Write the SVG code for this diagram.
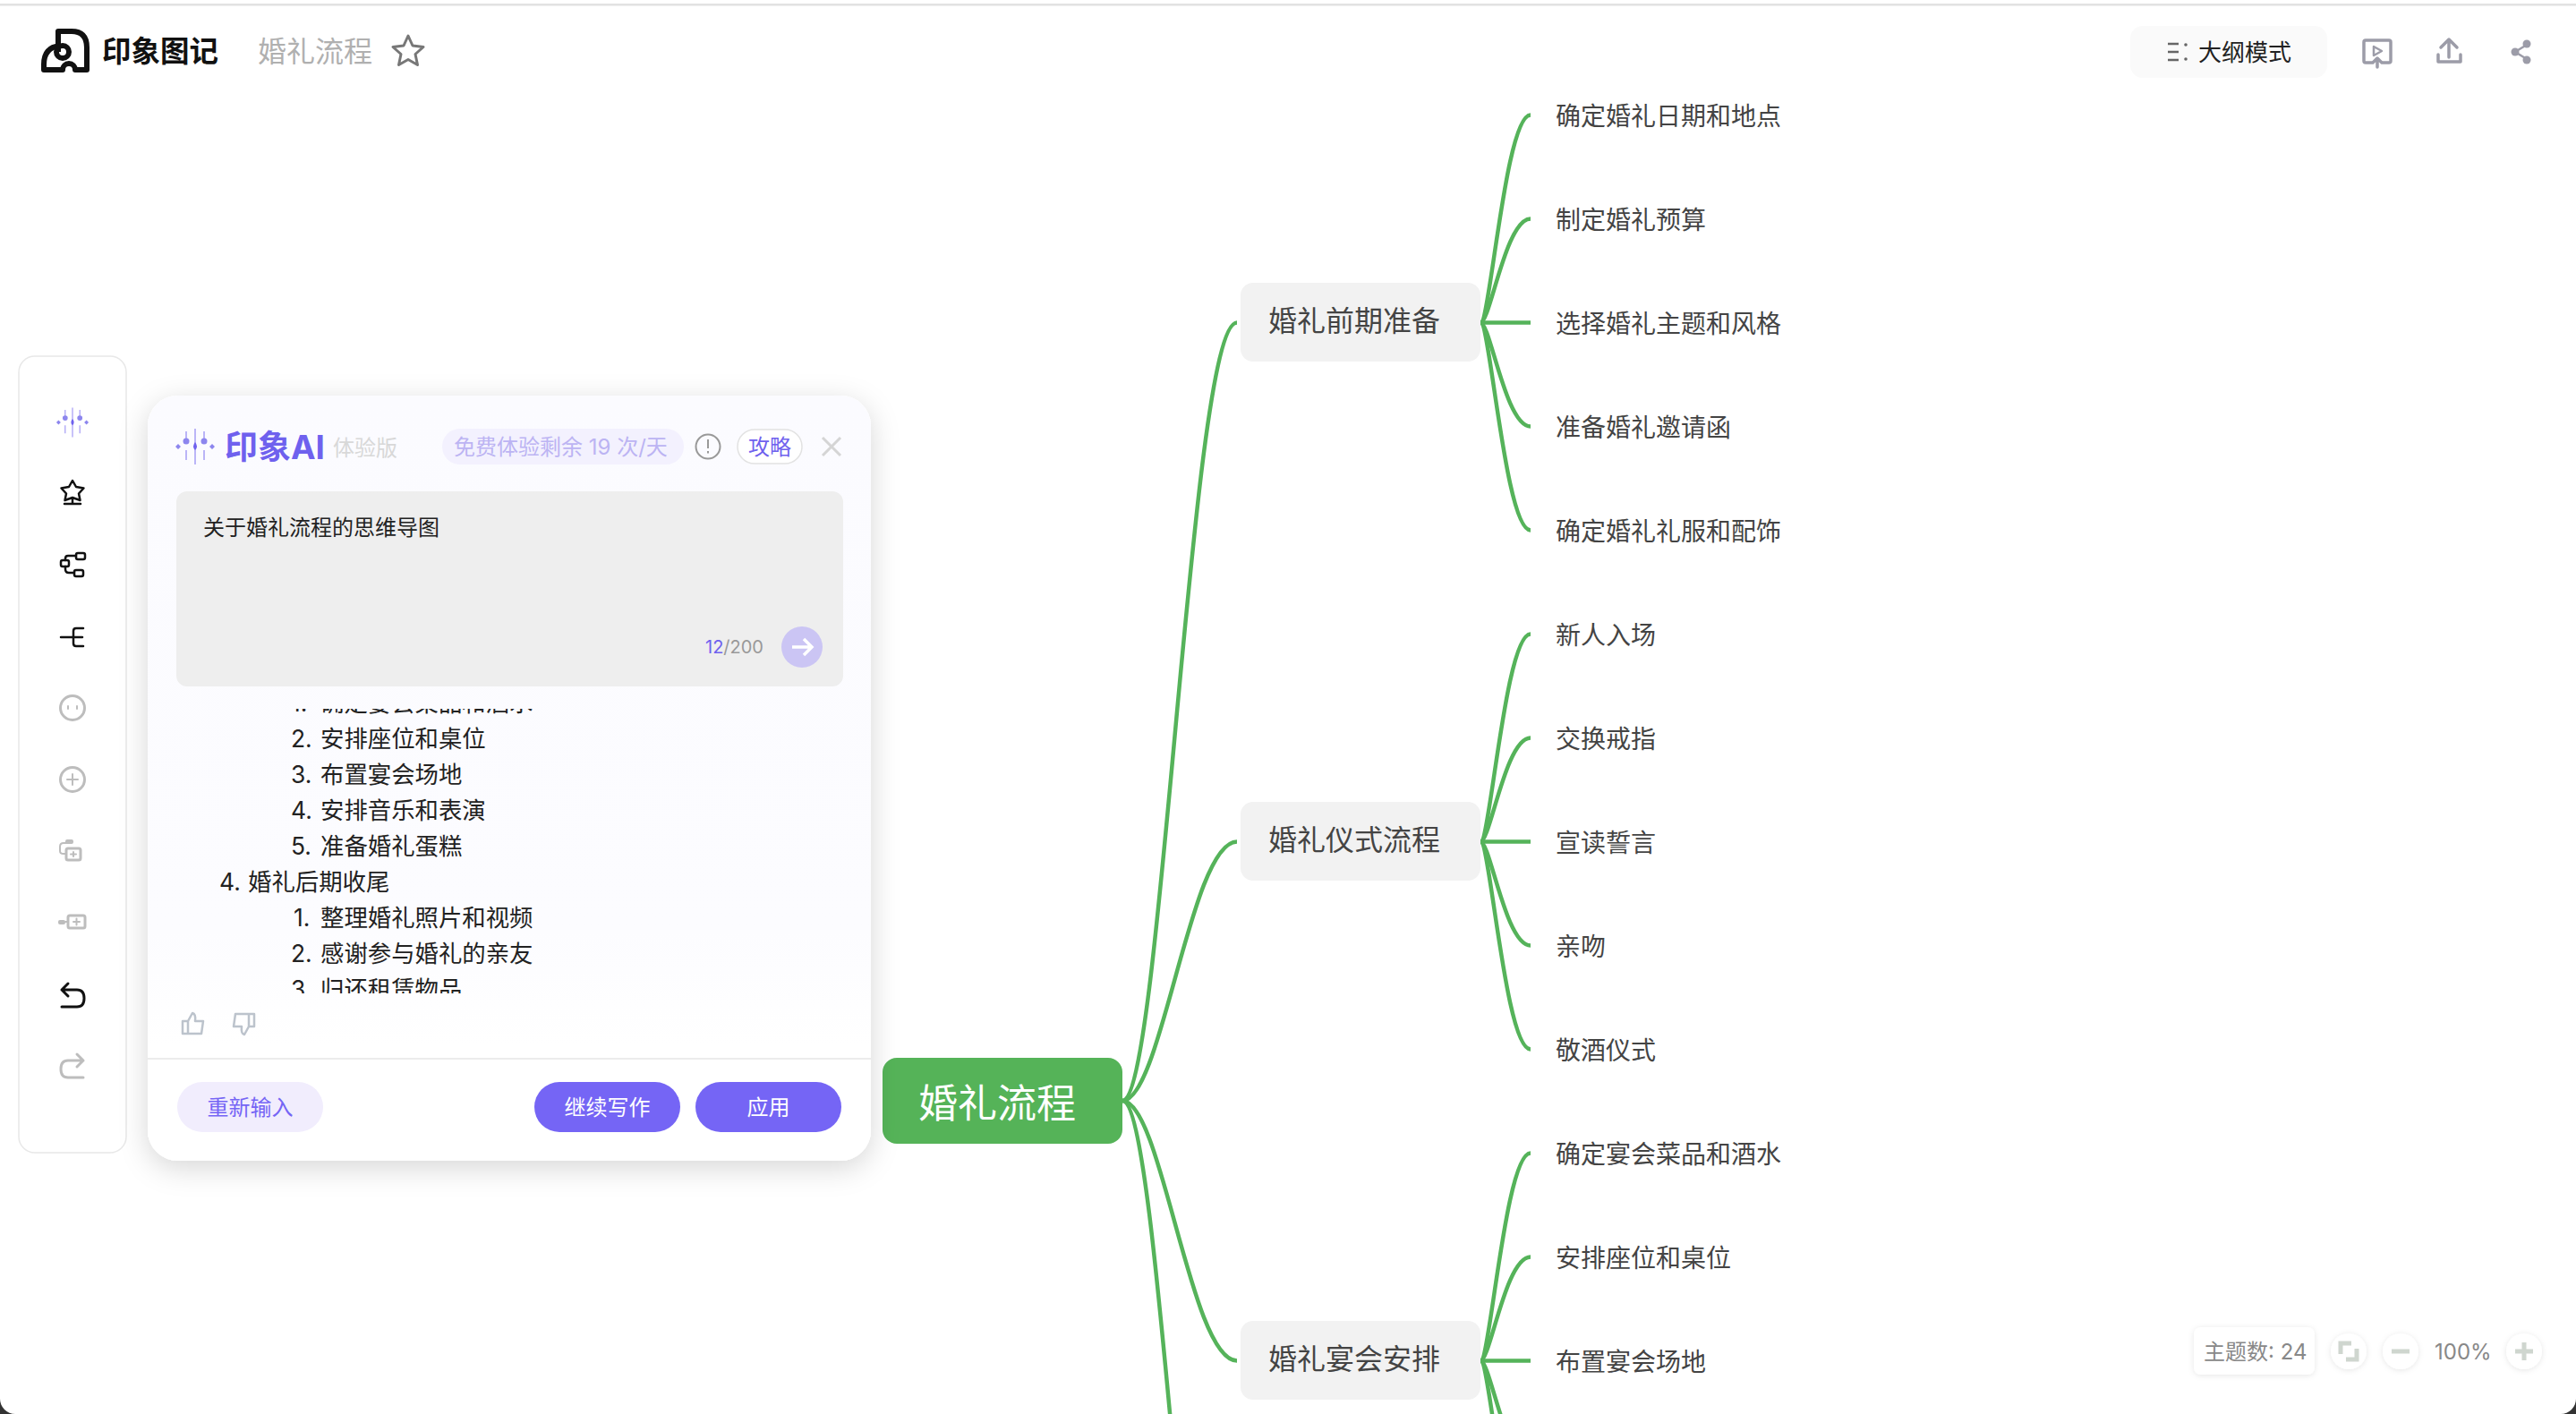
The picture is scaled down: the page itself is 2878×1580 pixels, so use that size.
<svg xmlns="http://www.w3.org/2000/svg" width="2878" height="1580" viewBox="0 0 2878 1580">
<style>
text{font-family:"Inter","Noto Sans CJK SC","Noto Sans",sans-serif;dominant-baseline:central}
.conn{fill:none;stroke:#55b35a;stroke-width:4.5;stroke-linecap:butt}
.leaf{font-size:28px;fill:#444}
.node{fill:#f2f2f2}
.ntx{font-size:32px;fill:#444}
.li{font-size:26.400px;fill:#222}
.ic{fill:none;stroke:#111;stroke-width:2.500;stroke-linejoin:round;stroke-linecap:round}
.ig{fill:none;stroke:#bdbdbd;stroke-width:3;stroke-linejoin:round;stroke-linecap:round}
.it{fill:none;stroke:#9c9ca8;stroke-width:3.500;stroke-linejoin:round;stroke-linecap:round}
.zm{fill:none;stroke:#cfd6cf;stroke-width:5}
</style>
<defs>
<filter id="sh" x="-15%" y="-15%" width="130%" height="130%"><feDropShadow dx="0" dy="8" stdDeviation="16" flood-color="#000" flood-opacity=".16"/></filter>
<filter id="sh2" x="-30%" y="-30%" width="160%" height="160%"><feDropShadow dx="0" dy="1" stdDeviation="3" flood-color="#000" flood-opacity=".1"/></filter>
<linearGradient id="pg" x1="0" y1="0" x2="0" y2="1"><stop offset="0" stop-color="#fbfbff"/><stop offset=".7" stop-color="#fcfcff"/><stop offset=".85" stop-color="#fff"/></linearGradient>
<clipPath id="lc"><rect x="166" y="792" width="806" height="318"/></clipPath>
<g id="spark">
<path d="M0-20V20M-10-17V-4M-10 4V15M10-17V-4M10 4V15" fill="none" stroke="#a79ef5" stroke-width="1.500"/>
<path d="M0-5q4 5 0 9q-4-4 0-9z" fill="#6f61ee"/><circle cx="-10" cy="-6" r="3.500" fill="#8d86ee"/><circle cx="10" cy="-6" r="3.500" fill="#8d86ee"/>
<path d="M-19-3l3 3-3 3-3-3zM19-3l3 3-3 3-3-3z" fill="#8d86ee"/>
</g>
</defs>
<rect width="2878" height="1580" fill="#fff"/>
<rect y="4" width="2878" height="2.500" fill="#e2e2e2"/>

<g id="connectors">
<path class="conn" d="M1254 1230C1298 1230 1330 360.500 1382 360.500"/>
<path class="conn" d="M1254 1230C1298 1230 1330 940.500 1382 940.500"/>
<path class="conn" d="M1254 1230C1298 1230 1330 1520.500 1382 1520.500"/>
<path class="conn" d="M1254 1230C1298 1230 1330 2100.500 1382 2100.500"/>
<path class="conn" d="M1654 360.500C1665 360.500 1682 128.500 1710 128.500"/>
<path class="conn" d="M1654 360.500C1665 360.500 1682 244.500 1710 244.500"/>
<path class="conn" d="M1654 360.500H1710"/>
<path class="conn" d="M1654 360.500C1665 360.500 1682 476.500 1710 476.500"/>
<path class="conn" d="M1654 360.500C1665 360.500 1682 592.500 1710 592.500"/>
<path class="conn" d="M1654 940.500C1665 940.500 1682 708.500 1710 708.500"/>
<path class="conn" d="M1654 940.500C1665 940.500 1682 824.500 1710 824.500"/>
<path class="conn" d="M1654 940.500H1710"/>
<path class="conn" d="M1654 940.500C1665 940.500 1682 1056.500 1710 1056.500"/>
<path class="conn" d="M1654 940.500C1665 940.500 1682 1172.500 1710 1172.500"/>
<path class="conn" d="M1654 1520.500C1665 1520.500 1682 1288.500 1710 1288.500"/>
<path class="conn" d="M1654 1520.500C1665 1520.500 1682 1404.500 1710 1404.500"/>
<path class="conn" d="M1654 1520.500H1710"/>
<path class="conn" d="M1654 1520.500C1665 1520.500 1682 1636.500 1710 1636.500"/>
<path class="conn" d="M1654 1520.500C1665 1520.500 1682 1752.500 1710 1752.500"/>
</g>

<g id="root"><rect x="986" y="1182" width="268" height="96" rx="16" fill="#55b358"/><text x="1026" y="1233" font-size="44" fill="#fff">婚礼流程</text></g>
<g id="n1"><rect class="node" x="1386" y="316" width="268" height="88" rx="14"/><text class="ntx" x="1417" y="358">婚礼前期准备</text></g>
<g id="n2"><rect class="node" x="1386" y="896" width="268" height="88" rx="14"/><text class="ntx" x="1417" y="938">婚礼仪式流程</text></g>
<g id="n3"><rect class="node" x="1386" y="1476" width="268" height="88" rx="14"/><text class="ntx" x="1417" y="1518">婚礼宴会安排</text></g>

<g id="l1"><text class="leaf" x="1738" y="129.500">确定婚礼日期和地点</text></g>
<g id="l2"><text class="leaf" x="1738" y="245.500">制定婚礼预算</text></g>
<g id="l3"><text class="leaf" x="1738" y="361.500">选择婚礼主题和风格</text></g>
<g id="l4"><text class="leaf" x="1738" y="477.500">准备婚礼邀请函</text></g>
<g id="l5"><text class="leaf" x="1738" y="593.500">确定婚礼礼服和配饰</text></g>
<g id="l6"><text class="leaf" x="1738" y="709.500">新人入场</text></g>
<g id="l7"><text class="leaf" x="1738" y="825.500">交换戒指</text></g>
<g id="l8"><text class="leaf" x="1738" y="941.500">宣读誓言</text></g>
<g id="l9"><text class="leaf" x="1738" y="1057.500">亲吻</text></g>
<g id="l10"><text class="leaf" x="1738" y="1173.500">敬酒仪式</text></g>
<g id="l11"><text class="leaf" x="1738" y="1289.500">确定宴会菜品和酒水</text></g>
<g id="l12"><text class="leaf" x="1738" y="1405.500">安排座位和桌位</text></g>
<g id="l13"><text class="leaf" x="1738" y="1521.500">布置宴会场地</text></g>

<g id="header">
<g fill="none" stroke="#111" stroke-width="6" stroke-linejoin="round"><path d="M65 58V35H80Q97 35 97 53V78H84A7 7 0 0 0 70 78H49V72Q49 53 67 51"/><circle cx="70" cy="58" r="7"/></g>
<text x="114" y="57" font-size="32.500" font-weight="700" fill="#111">印象图记</text>
<text x="288" y="57" font-size="32" fill="#b0b0b0">婚礼流程</text>
<path d="M456 40l5 11 12 1.500-9 8 2.500 12-10.500-6-10.500 6 2.500-12-9-8 12-1.500z" fill="none" stroke="#777" stroke-width="3" stroke-linejoin="round"/>
<rect x="2380" y="29" width="220" height="58" rx="14" fill="#fafafa"/>
<path d="M2422 49h12M2422 58h12M2422 67h12" stroke="#666" stroke-width="2.500"/><circle cx="2442" cy="50" r="1.800" fill="#666"/><circle cx="2442" cy="66" r="1.800" fill="#666"/>
<text x="2456" y="58" font-size="26" fill="#222">大纲模式</text>
<path class="it" d="M2650 70h-7a2 2 0 0 1-2-2V47a2 2 0 0 1 2-2h26a2 2 0 0 1 2 2v21a2 2 0 0 1-2 2h-7M2656 75v-9m-5 4l5-5 5 5"/><path class="it" style="stroke-width:2.500" d="M2652 52l9 5-9 5z"/>
<path class="it" d="M2736 64V44m-9 9l9-9 9 9M2724 61v8h25v-8"/>
<path d="M2823 50l-13 8 13 8" fill="none" stroke="#9c9ca8" stroke-width="2.500"/><circle cx="2823" cy="49" r="4.500" fill="#9c9ca8"/><circle cx="2810" cy="58" r="4.500" fill="#9c9ca8"/><circle cx="2823" cy="67" r="4.500" fill="#9c9ca8"/>
</g>

<g id="sidebar">
<rect x="21" y="398" width="120" height="890" rx="18" fill="#fff" stroke="#e8e8e8" stroke-width="1.500"/>
<use href="#spark" transform="translate(81 472) scale(.82)"/>
<g transform="translate(81 551)" class="ic"><path d="M0-14l4 7 8.500 1.500-5.500 6 1.500 7.500-8.500-3-8.500 3 1.500-7.500-5.500-6 8.500-1.500zM0 5V12M-9 12H9"/></g>
<g transform="translate(81 630)" class="ic"><rect x="-13" y="-4" width="9" height="7" rx="2"/><rect x="4" y="-12" width="10" height="7" rx="2"/><rect x="2" y="7" width="10" height="7" rx="2"/><path d="M-8-4V-6Q-8-9-5-9H4M-8 3V6Q-8 10-4 10H2"/></g>
<g transform="translate(81 712)" class="ic"><path d="M-13 0H11M12-10H4Q1-10 1-7V7Q1 10 4 10H12"/></g>
<g transform="translate(81 791)"><circle class="ig" r="13.500"/><path class="ig" style="stroke-width:2" d="M-5-2v3M5-2v3"/></g>
<g transform="translate(81 871)"><circle class="ig" r="13.500"/><path class="ig" style="stroke-width:2" d="M-6 0H6M0-6V6"/></g>
<g transform="translate(81 951)"><rect x="-7" y="-3" width="16" height="13" rx="2" class="ig"/><path class="ig" style="stroke-width:2" d="M-2 3.500H4M1 1V6M-6-9H-10Q-14-9-14-5V0Q-14 3-10 3H-7"/><rect x="-8" y="-13" width="9" height="5" rx="2" fill="#bdbdbd"/></g>
<g transform="translate(81 1031)"><rect x="-5" y="-8" width="19" height="14" rx="2" class="ig"/><path class="ig" style="stroke-width:2" d="M1-1H8M4.500-4.500V2.500M-8-1H-5"/><rect x="-16" y="-3" width="8" height="5" rx="2" fill="#bdbdbd"/></g>
<g transform="translate(81 1112)" class="ic" style="stroke-width:3"><path d="M-12-6H5Q13-6 13 3.500Q13 13 5 13H-12M-5-13L-12-6L-5 1"/></g>
<g transform="translate(81 1191)" class="ig"><path d="M12-6H-5Q-13-6-13 3.500Q-13 13-5 13H12M5-13L12-6L5 1"/></g>
</g>

<g id="ai-panel">
<rect x="165" y="442" width="808" height="855" rx="34" fill="#fff" filter="url(#sh)"/>
<rect x="165" y="442" width="808" height="855" rx="34" fill="url(#pg)"/>
<use href="#spark" transform="translate(218 499)"/>
<text x="251" y="499" font-size="37" font-weight="700" fill="#6f61ee">印象AI</text>
<text x="372" y="500" font-size="24" fill="#d8d8d8">体验版</text>
<rect x="494" y="479" width="270" height="40" rx="20" fill="#f3f1fe"/>
<text x="507" y="499" font-size="24" fill="#bcb4f3">免费体验剩余 19 次/天</text>
<g fill="none" stroke="#999" stroke-width="2"><circle cx="791" cy="499" r="13.500"/><path d="M791 491v10M791 504v2.500"/></g>
<rect x="824" y="480" width="72" height="38" rx="19" fill="#fff" stroke="#e2e2e2" stroke-width="1.500"/>
<text x="860" y="499" text-anchor="middle" font-size="24" fill="#6f61ee">攻略</text>
<path d="M919 489l20 20M939 489l-20 20" stroke="#d5d5d5" stroke-width="3"/>
<rect x="197" y="549" width="745" height="218" rx="12" fill="#eee"/>
<text x="227" y="589" font-size="24" fill="#222">关于婚礼流程的思维导图</text>
<text x="788" y="723" font-size="20" fill="#999"><tspan fill="#6f61ee">12</tspan>/200</text>
<circle cx="896" cy="723" r="23" fill="#cbc5f4"/>
<path d="M885 723h22m-9-9l9 9-9 9" fill="none" stroke="#fff" stroke-width="3.500"/>
<g clip-path="url(#lc)">
<text class="li" x="325" y="785">1.</text><text class="li" x="358" y="785">确定宴会菜品和酒水</text>
<text class="li" x="325" y="825">2.</text><text class="li" x="358" y="825">安排座位和桌位</text>
<text class="li" x="325" y="865">3.</text><text class="li" x="358" y="865">布置宴会场地</text>
<text class="li" x="325" y="905">4.</text><text class="li" x="358" y="905">安排音乐和表演</text>
<text class="li" x="325" y="945">5.</text><text class="li" x="358" y="945">准备婚礼蛋糕</text>
<text class="li" x="245" y="985">4.</text><text class="li" x="277" y="985">婚礼后期收尾</text>
<text class="li" x="328" y="1025">1.</text><text class="li" x="358" y="1025">整理婚礼照片和视频</text>
<text class="li" x="325" y="1065">2.</text><text class="li" x="358" y="1065">感谢参与婚礼的亲友</text>
<text class="li" x="325" y="1105">3.</text><text class="li" x="358" y="1105">归还租赁物品</text>
</g>
<g fill="none" stroke="#bcc3cc" stroke-width="2.500" stroke-linejoin="round"><path d="M204 1141h6v14h-6zM210 1141l5-9q4 1 3 9h9l-2 14h-15"/><path d="M284 1147h-6v-14h6zM278 1147l-5 9q-4-1-3-9h-9l2-14h15"/></g>
<rect x="165" y="1182" width="808" height="2" fill="#ececec"/>
<rect x="198" y="1209" width="163" height="56" rx="28" fill="#f1edfd"/>
<text x="279.500" y="1237" text-anchor="middle" font-size="24" fill="#7565f5">重新输入</text>
<rect x="597" y="1209" width="163" height="56" rx="28" fill="#7565f5"/>
<text x="678.500" y="1237" text-anchor="middle" font-size="24" fill="#fff">继续写作</text>
<rect x="777" y="1209" width="163" height="56" rx="28" fill="#7565f5"/>
<text x="858.500" y="1237" text-anchor="middle" font-size="24" fill="#fff">应用</text>
</g>

<g id="zoom-bar">
<rect x="2451" y="1483" width="135" height="53" rx="8" fill="#fff" filter="url(#sh2)"/>
<text x="2462" y="1510" font-size="24" fill="#888">主题数: 24</text>
<circle cx="2624" cy="1510" r="20" fill="#fff" filter="url(#sh2)"/>
<path class="zm" d="M2627 1501h-12v12M2621 1519h12v-12"/>
<circle cx="2682" cy="1510" r="20" fill="#fff" filter="url(#sh2)"/>
<path class="zm" d="M2672 1510h20"/>
<text x="2720" y="1510" font-size="24" fill="#888">100%</text>
<circle cx="2820" cy="1510" r="20" fill="#fff" filter="url(#sh2)"/>
<path class="zm" d="M2810 1510h20M2820 1500v20"/>
</g>
<path d="M2878 1563A17 17 0 0 1 2861 1580H2878Z" fill="#333"/>
<path d="M0 1563A17 17 0 0 0 17 1580H0Z" fill="#333"/>
</svg>
